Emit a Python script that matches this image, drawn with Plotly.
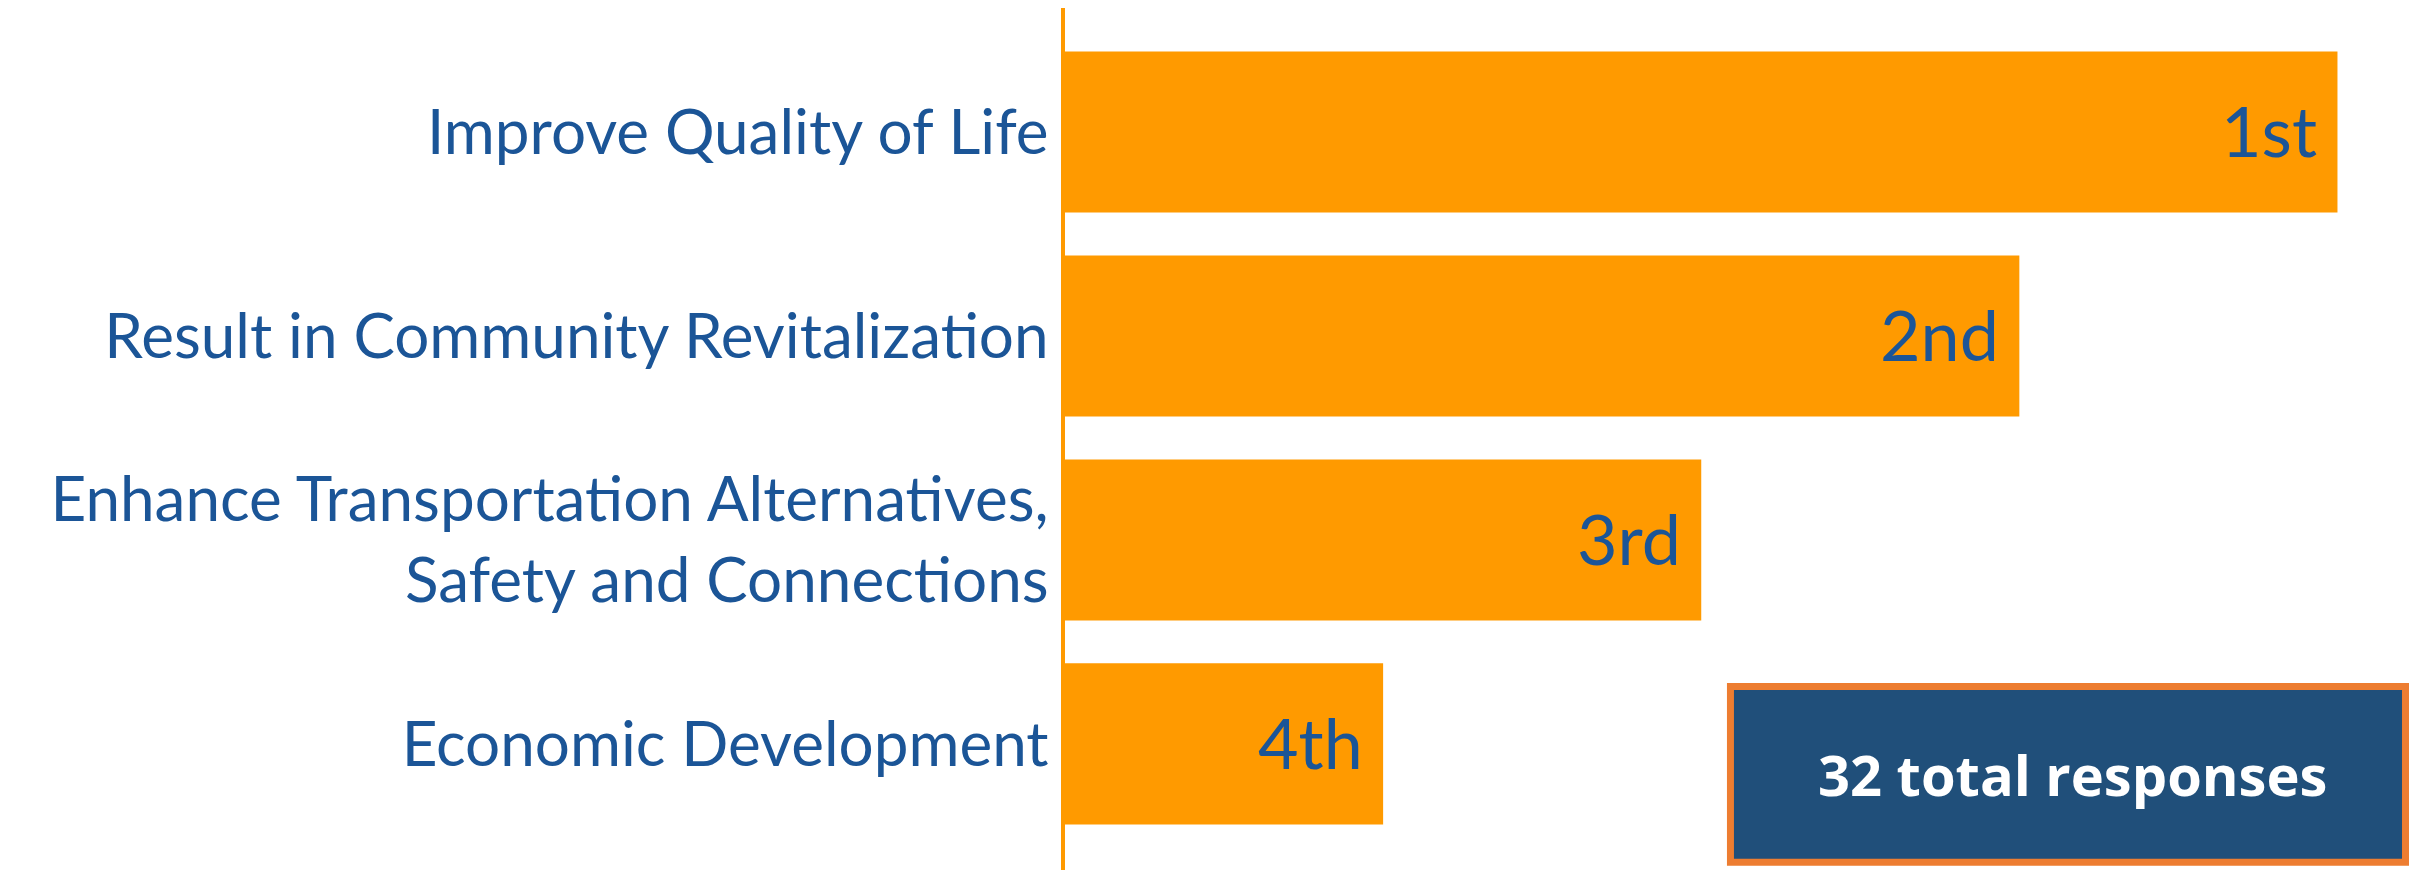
import plotly.graph_objects as go

categories = [
    "Improve Quality of Life",
    "Result in Community Revitalization",
    "Enhance Transportation Alternatives,<br>Safety and Connections",
    "Economic Development",
]
scores = [4, 3, 2, 1]
rank_labels = ["1st", "2nd", "3rd", "4th"]
total_text = "32 total responses"

BAR = "#FF9A00"
BLUE_TXT = "#1B5597"

fig = go.Figure()
fig.add_trace(go.Bar(
    x=scores, y=categories, orientation="h",
    marker=dict(color=BAR, line=dict(width=0)),
    width=0.79, hoverinfo="skip",
))

for cat, v, lab in zip(categories, scores, rank_labels):
    fig.add_annotation(
        x=v, y=cat, xref="x", yref="y", text=lab, showarrow=False,
        xanchor="right", yanchor="middle", xshift=-18, yshift=2,
        font=dict(family="Lato", size=70, color=BLUE_TXT),
    )

# summary box
bx0, bx1, by0, by1 = 0.4922, 0.9915, 0.009, 0.2129
fig.add_shape(
    type="rect", xref="paper", yref="paper",
    x0=bx0, x1=bx1, y0=by0, y1=by1,
    fillcolor="#204F7A", line=dict(color="#ED7D31", width=7), layer="above",
)
fig.add_annotation(
    xref="paper", yref="paper", x=(bx0 + bx1) / 2 + 0.003, y=(by0 + by1) / 2,
    text="<b>" + total_text + "</b>", showarrow=False,
    xanchor="center", yanchor="middle",
    font=dict(family="Open Sans", size=56, color="white"),
)

fig.update_layout(
    width=2409, height=862,
    margin=dict(l=1057, r=0, t=0, b=0, autoexpand=False),
    paper_bgcolor="white", plot_bgcolor="white",
    showlegend=False,
    xaxis=dict(range=[0, 4.25], visible=False, showgrid=False, zeroline=False),
    yaxis=dict(
        type="category", range=[3.618, -0.608],
        showline=True, linecolor=BAR, linewidth=4,
        showgrid=False, zeroline=False, ticks="",
        ticklabelstandoff=0,
        tickfont=dict(family="Lato", size=62, color=BLUE_TXT),
    ),
)

fig.write_html("out.html")
